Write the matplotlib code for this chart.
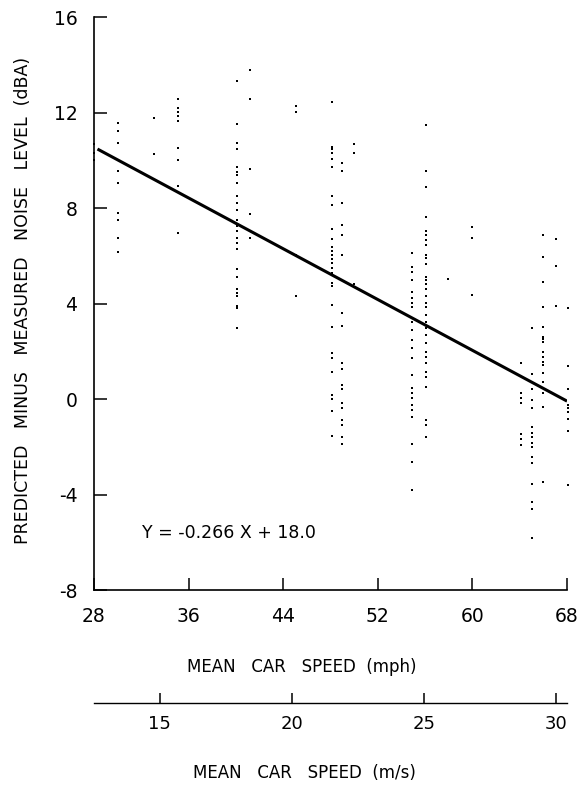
import matplotlib
matplotlib.use("Agg")
import matplotlib.pyplot as plt
import numpy as np

plt.rcParams['axes.unicode_minus'] = False

# Mean car speed (mph) of each site column and the measured differences (dBA)
speeds = [28.0, 30.0, 33.1, 35.1, 40.1, 41.2, 45.1, 48.1, 49.0, 50.0,
          54.9, 56.1, 57.9, 60.0, 64.1, 65.0, 66.0, 67.1, 68.1]
diffs = [
    [10.7, 10.3, 10.0],
    [11.56, 11.23, 10.72, 9.55, 9.05, 7.79, 7.5, 6.75, 6.16],
    [11.77, 10.26],
    [12.57, 12.19, 12.02, 11.85, 11.64, 10.51, 10.01, 8.92, 6.95],
    [13.32, 11.52, 10.72, 10.47, 9.72, 9.51, 9.38, 9.05, 8.50, 8.21, 7.92,
     7.50, 7.25, 7.04, 6.75, 6.54, 6.28, 5.45, 5.11, 4.61, 4.44, 4.32, 3.90,
     3.81, 2.98],
    [13.78, 12.57, 9.63, 7.75, 6.75],
    [12.27, 12.02, 6.03, 4.32],
    [12.44, 10.56, 10.47, 10.30, 10.05, 9.72, 8.50, 8.13, 7.12, 6.70, 6.37,
     6.20, 6.03, 5.87, 5.70, 5.49, 5.28, 4.86, 4.74, 3.94, 3.02, 1.93, 1.72,
     1.13, 0.17, 0.0, -0.5, -1.55],
    [9.89, 9.55, 8.21, 7.29, 6.87, 6.03, 3.60, 3.06, 1.51, 1.26, 0.59, 0.42,
     -0.16, -0.37, -0.88, -1.09, -1.59, -1.88],
    [10.68, 10.30, 4.82],
    [6.12, 5.53, 5.32, 4.99, 4.48, 4.23, 4.02, 3.86, 3.23, 2.89, 2.47, 2.14,
     1.72, 1.01, 0.46, 0.25, 0.04, -0.25, -0.46, -0.75, -1.88, -2.64, -3.81],
    [11.48, 9.55, 8.88, 7.62, 7.04, 6.87, 6.66, 6.45, 6.03, 5.91, 5.66, 5.11,
     4.99, 4.82, 4.61, 4.32, 4.02, 3.86, 3.52, 3.23, 2.98, 2.68, 2.35, 1.97,
     1.76, 1.51, 1.13, 0.92, 0.51, -0.88, -1.09, -1.59],
    [5.03],
    [7.21, 6.75, 4.36],
    [1.51, 0.25, 0.04, -0.16, -1.46, -1.67, -1.92],
    [2.98, 1.05, 0.42, -0.04, -0.37, -1.17, -1.42, -1.59, -1.84, -2.01,
     -2.43, -2.68, -3.56, -4.31, -4.60, -5.82],
    [6.87, 5.95, 4.90, 3.86, 3.02, 2.60, 2.52, 2.39, 1.97, 1.76, 1.55, 1.43,
     1.09, 0.71, 0.25, -0.33, -3.47],
    [6.70, 5.57, 3.90],
    [3.81, 1.39, 0.42, -0.25, -0.37, -0.54, -0.84, -1.34, -3.60],
]

# regression Y = -0.266 X + 18.0
slope, intercept = -0.266, 18.0
fit_range = [28.3, 68.0]

mph_ticks = [28, 36, 44, 52, 60, 68]
y_ticks = [16, 12, 8, 4, 0, -4, -8]
ms_ticks = [15, 20, 25, 30]
MPH_PER_MS = 2.2369

x = np.concatenate([[s] * len(d) for s, d in zip(speeds, diffs)])
y = np.concatenate(diffs)

fig = plt.figure(figsize=(5.87, 7.87), dpi=100)
ax = fig.add_axes([0.160, 0.2503, 0.806, 0.728])

ax.plot(x, y, 's', color='black', markersize=2.0, markeredgewidth=0, clip_on=False)
fx = np.array(fit_range)
ax.plot(fx, slope * fx + intercept, color='black', lw=2.2, solid_capstyle='butt')

ax.set_xlim(28, 68)
ax.set_ylim(-8, 16)
ax.set_xticks(mph_ticks)
ax.set_yticks(y_ticks)
for s in ['top', 'right']:
    ax.spines[s].set_visible(False)
for s in ['left', 'bottom']:
    ax.spines[s].set_linewidth(1.2)
ax.tick_params(axis='both', direction='in', length=9, width=1.1, labelsize=13.5)
ax.tick_params(axis='x', pad=12)
ax.tick_params(axis='y', pad=12)

ax.text(32.1, -5.6, 'Y = -0.266 X + 18.0', fontsize=12.5, va='center', ha='left')

ax.set_ylabel('PREDICTED   MINUS   MEASURED   NOISE   LEVEL  (dBA)', fontsize=12.5)
ax.yaxis.set_label_coords(-0.13, 0.505)
ax.set_xlabel('MEAN   CAR   SPEED  (mph)', fontsize=12)
ax.xaxis.set_label_coords(0.44, -0.118)

# secondary speed scale in m/s
ax2 = fig.add_axes([0.160, 0.107, 0.806, 0.0001])
ax2.set_xlim(28 / MPH_PER_MS, 68 / MPH_PER_MS)
ax2.set_ylim(0, 1)
ax2.set_xticks(ms_ticks)
ax2.set_yticks([])
for s in ['top', 'right', 'left']:
    ax2.spines[s].set_visible(False)
ax2.spines['bottom'].set_linewidth(1.0)
ax2.tick_params(axis='x', direction='in', length=7, width=1.1, labelsize=13, pad=9)
fig.text(0.160 + 0.806 * 0.445, 1 - 773 / 787, 'MEAN   CAR   SPEED  (m/s)',
         fontsize=12, ha='center', va='center')

fig.savefig('out.png', dpi=100)
